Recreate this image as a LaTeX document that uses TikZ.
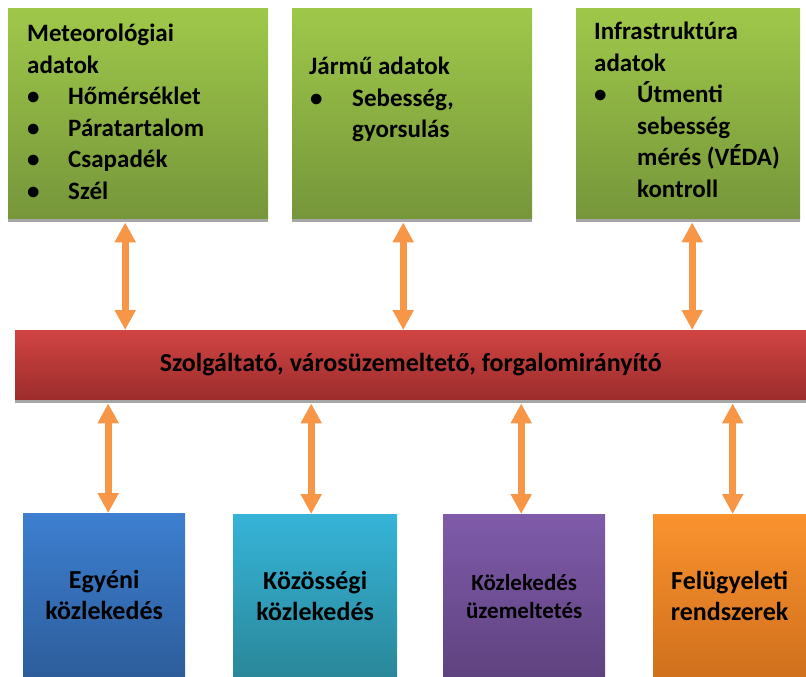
\documentclass[tikz,border=0pt]{standalone}
\usepackage{fontspec}
\setmainfont{Carlito}
\usepackage{tikz}
\usetikzlibrary{positioning, arrows.meta, shadows, calc}

\definecolor{greentop}{HTML}{9FC84A}
\definecolor{greenbot}{HTML}{76963A}
\definecolor{redtop}{HTML}{D04443}
\definecolor{redbot}{HTML}{9C2D2B}
\definecolor{bluetop}{HTML}{3D7FD0}
\definecolor{bluebot}{HTML}{2D5D9B}
\definecolor{cyantop}{HTML}{36B4D8}
\definecolor{cyanbot}{HTML}{2A8799}
\definecolor{purptop}{HTML}{7F5BAA}
\definecolor{purpbot}{HTML}{5F427F}
\definecolor{orantop}{HTML}{FA922E}
\definecolor{oranbot}{HTML}{D0701D}
\definecolor{arrowor}{HTML}{F79646}

\newcommand{\bul}{\makebox[41pt][l]{\textbullet}}

\begin{document}
\begin{tikzpicture}[x=1pt, y=-1pt, font=\bfseries,
  box/.style={rectangle, anchor=north west, inner sep=0pt, align=center},
  shade/.style={drop shadow={shadow xshift=0pt, shadow yshift=-4pt, fill=black!35, opacity=1}},
  greenbox/.style={box, shade, top color=greentop, bottom color=greenbot, minimum height=210pt},
  boxtext/.style={anchor=north west, inner sep=0pt, align=left, font=\bfseries\fontsize{25}{31.5}\selectfont},
  lowbox/.style={box, minimum height=164pt, font=\bfseries\fontsize{26}{31}\selectfont},
  biarrow/.style={{Triangle[width=20pt,length=20pt]}-{Triangle[width=20pt,length=20pt]}, line width=7pt, draw=arrowor}]
\useasboundingbox (0,0) rectangle (806,677);

% Nodes
\node[greenbox, minimum width=260pt] (meteo) at (8,8) {};
\node[greenbox, minimum width=240pt] (jarmu) at (292,8) {};
\node[greenbox, minimum width=224pt] (infra) at (576,8) {};

\node[boxtext] (meteotext) at (27,24) {Meteorológiai\\adatok\\\bul Hőmérséklet\\\bul Páratartalom\\\bul Csapadék\\\bul Szél};
\node[boxtext] (jarmutext) at (309,57) {Jármű adatok\\\makebox[43pt][l]{\hspace{1pt}\textbullet}Sebesség,\\\hspace{43pt}gyorsulás};
\node[boxtext] (infratext) at (594,22) {Infrastruktúra\\adatok\\\makebox[43pt][l]{\textbullet}Útmenti\\\hspace{43pt}sebesség\\\hspace{43pt}mérés (VÉDA)\\\hspace{43pt}kontroll};

\node[box, shade, top color=redtop, bottom color=redbot, minimum width=791pt, minimum height=69pt,
  font=\bfseries\fontsize{26}{30}\selectfont] (operator) at (15,330) {Szolgáltató, városüzemeltető, forgalomirányító};

\node[lowbox, minimum width=162pt, top color=bluetop, bottom color=bluebot] (egyeni) at (23,513) {Egyéni\\közlekedés};
\node[lowbox, minimum width=164pt, top color=cyantop, bottom color=cyanbot] (kozossegi) at (233,514) {Közösségi\\közlekedés};
\node[lowbox, minimum width=162pt, top color=purptop, bottom color=purpbot,
  font=\bfseries\fontsize{23}{28}\selectfont] (uzemeltetes) at (443,514) {Közlekedés\\üzemeltetés};
\node[lowbox, minimum width=153pt, top color=orantop, bottom color=oranbot] (felugyelet) at (653,514) {Felügyeleti\\rendszerek};

% Edges
\draw[biarrow] ([xshift=-13pt,yshift=-4pt]meteo.south) -- ([xshift=-13pt]meteo.south |- operator.north);
\draw[biarrow] ([xshift=-9pt,yshift=-4pt]jarmu.south) -- ([xshift=-9pt]jarmu.south |- operator.north);
\draw[biarrow] ([xshift=4pt,yshift=-4pt]infra.south) -- ([xshift=4pt]infra.south |- operator.north);

\draw[biarrow] ([xshift=4pt]egyeni.north) -- ([xshift=4pt,yshift=-4pt]egyeni.north |- operator.south);
\draw[biarrow] ([xshift=-4pt]kozossegi.north) -- ([xshift=-4pt,yshift=-4pt]kozossegi.north |- operator.south);
\draw[biarrow] ([xshift=-3pt]uzemeltetes.north) -- ([xshift=-3pt,yshift=-4pt]uzemeltetes.north |- operator.south);
\draw[biarrow] ([xshift=3pt]felugyelet.north) -- ([xshift=3pt,yshift=-4pt]felugyelet.north |- operator.south);

\end{tikzpicture}
\end{document}
